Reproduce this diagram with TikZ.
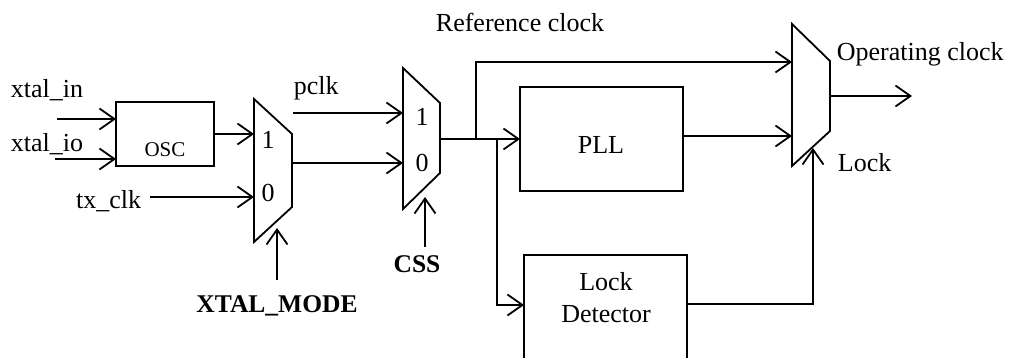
\documentclass[tikz,border=0pt]{standalone}
\usepackage{fontspec}
\setmainfont{Liberation Serif}
\usetikzlibrary{arrows.meta}
\begin{document}
\begin{tikzpicture}[x=1pt,y=-1pt,line width=1.8pt,
  arr/.style={-{Straight Barb[length=15pt,width=21pt]}},
  lbl/.style={inner sep=0pt,font=\fontsize{26}{29}\selectfont},
  blbl/.style={inner sep=0pt,font=\fontsize{25.5}{29}\selectfont\bfseries},
  blk/.style={draw,inner sep=0pt,outer sep=0pt,anchor=north west}]
\useasboundingbox (0,0) rectangle (1009,358);
\clip (0,0) rectangle (1009,358);
% blocks
\node[blk,minimum width=98pt,minimum height=64pt] (osc) at (116,102) {};
\node[lbl,font=\fontsize{21}{24}\selectfont,anchor=base] (osct) at (165,157) {OSC};
\node[blk,minimum width=163pt,minimum height=104pt] (pll) at (520,87) {};
\node[lbl,anchor=base] (pllt) at (601,154) {PLL};
\node[blk,minimum width=163pt,minimum height=140pt] (ld) at (524,255) {};
\node[lbl,anchor=base] (ldt1) at (606,290) {Lock};
\node[lbl,anchor=base] (ldt2) at (606,322) {Detector};
% muxes
\draw (254,99) -- (292,134) -- (292,207) -- (254,242) -- cycle;
\coordinate (m1in1) at (254,134);
\coordinate (m1in0) at (254,197);
\coordinate (m1out) at (292,163);
\coordinate (m1sel) at (277,228);
\node[lbl,anchor=base] (m1one) at (268,149) {1};
\node[lbl,anchor=base] (m1zero) at (268,202) {0};
\draw (403,68) -- (440,103) -- (440,173) -- (403,209) -- cycle;
\coordinate (m2in1) at (403,113);
\coordinate (m2in0) at (403,163);
\coordinate (m2out) at (440,139);
\coordinate (m2sel) at (425,197);
\node[lbl,anchor=base] (m2one) at (422,126) {1};
\node[lbl,anchor=base] (m2zero) at (422,172) {0};
\draw (792,24) -- (830,61) -- (830,131) -- (792,166) -- cycle;
\coordinate (m3in1) at (792,62);
\coordinate (m3in0) at (792,136);
\coordinate (m3out) at (830,96);
\coordinate (m3sel) at (813,148);
% labels
\node[lbl,anchor=base west] (xin) at (10,98) {xtal\_in};
\node[lbl,anchor=base west] (xio) at (10,152) {xtal\_io};
\node[lbl,anchor=base east] (txclk) at (142,208) {tx\_clk};
\node[blbl,anchor=base] (xm) at (277,312) {XTAL\_MODE};
\node[lbl,anchor=base west] (pclk) at (293,95) {pclk};
\node[blbl,anchor=base] (css) at (417,272) {CSS};
\node[lbl,anchor=base] (refclk) at (520,32) {Reference clock};
\node[lbl,anchor=base west] (opclk) at (836,61) {Operating clock};
\node[lbl,anchor=base west] (lock) at (837,172) {Lock};
% coordinates
\coordinate (xinS) at (57,119);
\coordinate (xioS) at (55,159);
\coordinate (txS) at (150,197);
\coordinate (xmS) at (277,280);
\coordinate (pclkS) at (293,113);
\coordinate (cssS) at (425,247);
\coordinate (br1) at (476,139);
\coordinate (br2) at (497,139);
\coordinate (ldin) at (524,305);
\coordinate (ldout) at (687,304);
\coordinate (outE) at (912,96);
% connectors
\draw[arr] (xinS) -- (xinS -| osc.west);
\draw[arr] (xioS) -- (xioS -| osc.west);
\draw[arr] (osc.east |- m1in1) -- (m1in1);
\draw[arr] (txS) -- (m1in0);
\draw[arr] (xmS) -- (m1sel);
\draw[arr] (pclkS) -- (m2in1);
\draw[arr] (m1out) -- (m2in0);
\draw[arr] (cssS) -- (m2sel);
\draw[arr] (m2out) -- (pll.west);
\draw[arr] (br1) |- (m3in1);
\draw[arr] (br2) |- (ldin);
\draw[arr] (pll.east |- m3in0) -- (m3in0);
\draw[arr] (ldout) -| (m3sel);
\draw[arr] (m3out) -- (outE);
\end{tikzpicture}
\end{document}
